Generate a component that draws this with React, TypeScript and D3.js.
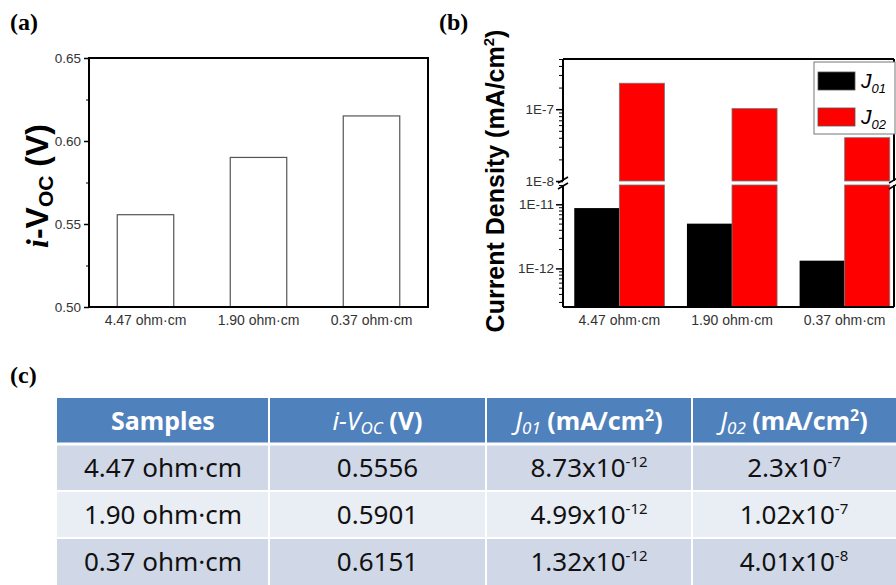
import React, { useEffect, useRef } from "react";
import * as d3 from "d3";

const samples = ["4.47 ohm·cm", "1.90 ohm·cm", "0.37 ohm·cm"];
const ivoc = [0.5556, 0.5901, 0.6151];
const j01 = [8.73e-12, 4.99e-12, 1.32e-12];
const j02 = [2.3e-7, 1.02e-7, 4.01e-8];
const ivocTicks = [0.5, 0.55, 0.6, 0.65];
const ivocMinor = [0.525, 0.575, 0.625];
const upperMajor = [1e-8, 1e-7];
const lowerMajor = [1e-12, 1e-11];
const seriesNames = ["J01", "J02"];
const seriesColors = ["#000000", "#ff0000"];

// panel boxes (pixels)
const A = { left: 89, right: 428, top: 58, bottom: 307 };
const B = { left: 563, right: 894, top: 59, bottom: 307, brkTop: 181, brkBot: 185 };
const TBL = { cols: [57, 269, 486, 692, 900], rows: [398, 444, 491, 538, 585] };
const SANS = "'Liberation Sans', Arial, sans-serif";
const SERIF = "'Liberation Serif', 'Times New Roman', serif";
const TFONT = "'Noto Sans', 'Open Sans', sans-serif";

const xA = d3.scaleBand().domain(samples).range([A.left, A.right]).paddingInner(0.5).paddingOuter(0.25);
const yA = d3.scaleLinear().domain([0.5, 0.65]).range([A.bottom, A.top]);

const xB = d3.scaleBand().domain(samples).range([B.left, 901]).paddingInner(0.2).paddingOuter(0.1);
const xSub = d3.scaleBand().domain(seriesNames).range([0, xB.bandwidth()]);
const yUp = d3.scaleLog().domain([1e-8, 5e-7]).range([B.brkTop, B.top]);
const yLo = d3.scaleLog().domain([2.5e-13, 2e-11]).range([B.bottom, B.brkBot]);

const logMinor = (lo: number, hi: number) => {
  const out: number[] = [];
  for (let e = Math.floor(Math.log10(lo)); e <= Math.ceil(Math.log10(hi)); e++) {
    for (let m = 2; m <= 9; m++) {
      const v = m * Math.pow(10, e);
      if (v >= lo * 0.999 && v <= hi * 1.001) out.push(v);
    }
  }
  return out;
};

const splitExp = (v: number) => {
  const [m, e] = v.toExponential().split("e");
  return { m, e: e.replace("+", "") };
};

export default function App() {
  const axA = useRef<SVGGElement>(null);
  const axB = useRef<SVGGElement>(null);

  useEffect(() => {
    const g = d3.select(axA.current);
    g.selectAll("*").remove();
    const y = g.append("g").attr("transform", `translate(${A.left},0)`)
      .call(d3.axisLeft(yA).tickValues(ivocTicks).tickFormat(d3.format(".2f")).tickSize(5).tickPadding(3));
    y.select(".domain").remove();
    y.selectAll("line").attr("stroke-width", 1.5);
    y.selectAll("text").style("font-family", SANS).style("font-size", "13.5px").attr("fill", "#333");
    const ym = g.append("g").attr("transform", `translate(${A.left},0)`)
      .call(d3.axisLeft(yA).tickValues(ivocMinor).tickFormat(() => "").tickSize(3));
    ym.select(".domain").remove();
    const x = g.append("g").attr("transform", `translate(0,${A.bottom})`)
      .call(d3.axisBottom(xA).tickSize(0).tickPadding(8));
    x.select(".domain").remove();
    x.selectAll("text").style("font-family", SANS).style("font-size", "14px").attr("fill", "#333");

    const h = d3.select(axB.current);
    h.selectAll("*").remove();
    const fmt = (d: any) => `1E${Math.round(Math.log10(d))}`;
    const up = h.append("g").attr("transform", `translate(${B.left},0)`)
      .call(d3.axisLeft(yUp).tickValues(upperMajor).tickFormat(fmt).tickSize(7).tickPadding(2));
    up.select(".domain").remove();
    up.selectAll("line").attr("stroke-width", 1.5);
    const upm = h.append("g").attr("transform", `translate(${B.left},0)`)
      .call(d3.axisLeft(yUp).tickValues(logMinor(1e-8, 5e-7).filter(v => !upperMajor.includes(v))).tickFormat(() => "").tickSize(4));
    upm.select(".domain").remove();
    const lo = h.append("g").attr("transform", `translate(${B.left},0)`)
      .call(d3.axisLeft(yLo).tickValues(lowerMajor).tickFormat(fmt).tickSize(7).tickPadding(2));
    lo.select(".domain").remove();
    lo.selectAll("line").attr("stroke-width", 1.5);
    const lom = h.append("g").attr("transform", `translate(${B.left},0)`)
      .call(d3.axisLeft(yLo).tickValues(logMinor(2.5e-13, 2e-11).filter(v => !lowerMajor.some(m => Math.abs(m - v) < m * 1e-6))).tickFormat(() => "").tickSize(4));
    lom.select(".domain").remove();
    h.selectAll("text").style("font-family", SANS).style("font-size", "13.5px").attr("fill", "#333");
    const xb = h.append("g").attr("transform", `translate(0,${B.bottom})`)
      .call(d3.axisBottom(xB).tickSize(0).tickPadding(8));
    xb.select(".domain").remove();
    xb.selectAll("text").style("font-family", SANS).style("font-size", "14px").attr("fill", "#333");
  }, []);

  const brk = (x: number) => (
    <g stroke="#000" strokeWidth={1.5}>
      <line x1={x - 5} y1={B.brkTop + 2} x2={x + 5} y2={B.brkTop - 4} />
      <line x1={x - 5} y1={B.brkBot + 4} x2={x + 5} y2={B.brkBot - 2} />
    </g>
  );

  const rowFills = ["#d0d8e8", "#e9edf4", "#d0d8e8"];
  const colMid = (i: number) => (TBL.cols[i] + Math.min(TBL.cols[i + 1], 896)) / 2;

  return (
    <div style={{ position: "absolute", left: 0, top: 0 }}>
      <svg width={896} height={585} style={{ display: "block", background: "#fff" }}>
        {/* panel labels */}
        <text x={10} y={30} fontFamily={SERIF} fontWeight="bold" fontSize={24}>(a)</text>
        <text x={439} y={30} fontFamily={SERIF} fontWeight="bold" fontSize={24}>(b)</text>
        <text x={10} y={383} fontFamily={SERIF} fontWeight="bold" fontSize={24}>(c)</text>

        {/* (a) */}
        {samples.map((s, i) => (
          <rect key={s} x={xA(s)} y={yA(ivoc[i])} width={xA.bandwidth()} height={A.bottom - yA(ivoc[i])}
            fill="#fff" stroke="#555" strokeWidth={1.2} />
        ))}
        <rect x={A.left} y={A.top} width={A.right - A.left} height={A.bottom - A.top} fill="none" stroke="#000" strokeWidth={2} />
        <g ref={axA} />
        <text transform={`translate(48,186) rotate(-90)`} textAnchor="middle" fontFamily={SANS} fontWeight="bold" fontSize={32}>
          <tspan fontFamily={SERIF} fontStyle="italic">i</tspan>
          <tspan>-V</tspan>
          <tspan fontSize={21} dy={5}>OC</tspan>
          <tspan dy={-5}> (V)</tspan>
        </text>

        {/* (b) */}
        {samples.map((s, i) => {
          const x0 = xB(s)!;
          const w = xSub.bandwidth();
          return (
            <g key={s}>
              <rect x={x0 + xSub("J01")!} y={yLo(j01[i])} width={w} height={B.bottom - yLo(j01[i])} fill={seriesColors[0]} />
              <rect x={x0 + xSub("J02")!} y={B.brkBot} width={w} height={B.bottom - B.brkBot} fill={seriesColors[1]} stroke="#777" strokeWidth={0.8} />
              <rect x={x0 + xSub("J02")!} y={yUp(j02[i])} width={w} height={B.brkTop - yUp(j02[i])} fill={seriesColors[1]} stroke="#777" strokeWidth={0.8} />
            </g>
          );
        })}
        <g stroke="#000" strokeWidth={2} fill="none">
          <line x1={B.left} y1={B.top} x2={B.right} y2={B.top} />
          <line x1={B.left} y1={B.bottom} x2={B.right} y2={B.bottom} />
          <line x1={B.left} y1={B.top} x2={B.left} y2={B.brkTop} />
          <line x1={B.left} y1={B.brkBot} x2={B.left} y2={B.bottom} />
          <line x1={B.right} y1={B.top} x2={B.right} y2={B.brkTop} />
          <line x1={B.right} y1={B.brkBot} x2={B.right} y2={B.bottom} />
        </g>
        {brk(B.left)}
        {brk(B.right)}
        <g ref={axB} />
        <text transform={`translate(504,181) rotate(-90)`} textAnchor="middle" fontFamily={SANS} fontWeight="bold" fontSize={25}>
          Current Density (mA/cm<tspan fontSize={15} dy={-10}>2</tspan><tspan dy={10}>)</tspan>
        </text>
        {/* legend */}
        <rect x={814} y={62} width={81} height={72} fill="#fff" stroke="#777" strokeWidth={1} />
        {seriesNames.map((n, i) => (
          <g key={n}>
            <rect x={818} y={72 + i * 36} width={37} height={18} fill={seriesColors[i]} stroke="#555" strokeWidth={0.8} />
            <text x={861} y={88 + i * 36} fontFamily={SANS} fontStyle="italic" fontSize={21}>
              J<tspan fontSize={13} dy={5}>{n.slice(1)}</tspan>
            </text>
          </g>
        ))}

        {/* (c) table */}
        <rect x={TBL.cols[0]} y={TBL.rows[0]} width={900 - TBL.cols[0]} height={TBL.rows[1] - TBL.rows[0]} fill="#4f81bd" />
        {rowFills.map((f, r) => (
          <rect key={r} x={TBL.cols[0]} y={TBL.rows[r + 1]} width={900 - TBL.cols[0]} height={TBL.rows[r + 2] - TBL.rows[r + 1]} fill={f} />
        ))}
        {TBL.rows.slice(1, 4).map((y, i) => (
          <line key={"h" + i} x1={TBL.cols[0]} x2={900} y1={y} y2={y} stroke="#fff" strokeWidth={i === 0 ? 3 : 2} />
        ))}
        {TBL.cols.slice(1, 4).map((x, i) => (
          <line key={"v" + i} x1={x} x2={x} y1={TBL.rows[0]} y2={585} stroke="#fff" strokeWidth={2} />
        ))}
        <g fontFamily={TFONT} fontSize={25} fill="#fff" fontWeight="bold" textAnchor="middle">
          <text x={colMid(0)} y={430}>Samples</text>
          <text x={colMid(1)} y={430}>
            <tspan fontStyle="italic" fontWeight="normal">i-V</tspan>
            <tspan fontStyle="italic" fontWeight="normal" fontSize={17} dy={4}>OC</tspan>
            <tspan dy={-4}> (V)</tspan>
          </text>
          {seriesNames.map((n, i) => (
            <text key={n} x={colMid(2 + i)} y={430}>
              <tspan fontStyle="italic" fontWeight="normal">J</tspan>
              <tspan fontStyle="italic" fontWeight="normal" fontSize={17} dy={4}>{n.slice(1)}</tspan>
              <tspan dy={-4}> (mA/cm</tspan>
              <tspan fontSize={16} dy={-9}>2</tspan>
              <tspan dy={9}>)</tspan>
            </text>
          ))}
        </g>
        <g fontFamily={TFONT} fontSize={26} fill="#111" textAnchor="middle">
          {samples.map((s, r) => {
            const y = (TBL.rows[r + 1] + TBL.rows[r + 2]) / 2 + 9;
            const a = splitExp(j01[r]);
            const b = splitExp(j02[r]);
            return (
              <g key={s}>
                <text x={colMid(0)} y={y}>{s}</text>
                <text x={colMid(1)} y={y}>{ivoc[r].toFixed(4)}</text>
                <text x={colMid(2)} y={y}>{a.m}x10<tspan fontSize={15} dy={-10}>{a.e}</tspan></text>
                <text x={colMid(3)} y={y}>{b.m}x10<tspan fontSize={15} dy={-10}>{b.e}</tspan></text>
              </g>
            );
          })}
        </g>
      </svg>
    </div>
  );
}
